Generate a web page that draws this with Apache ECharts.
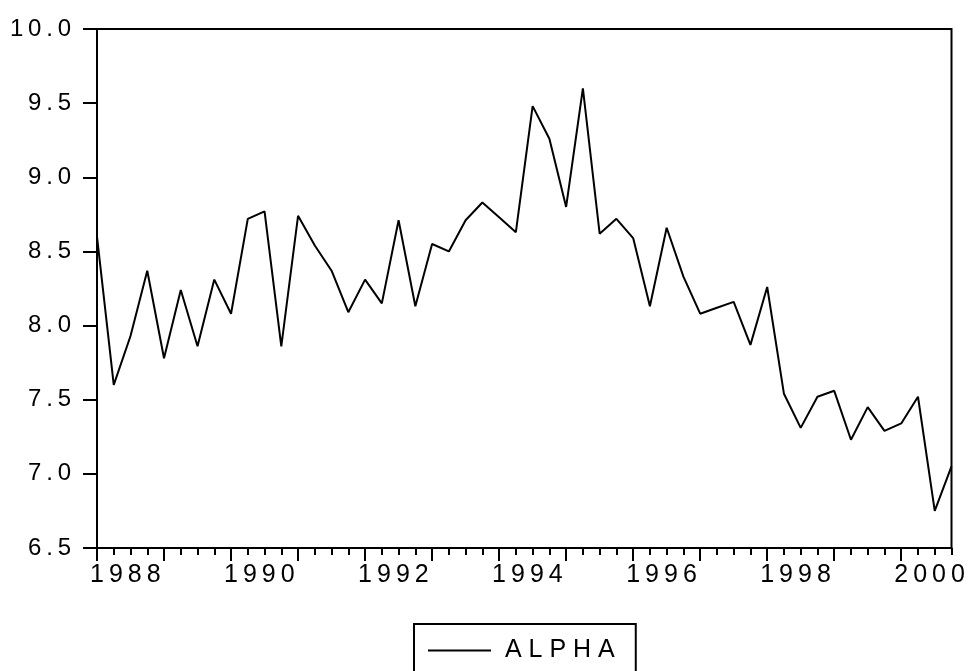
<!DOCTYPE html>
<html>
<head>
<meta charset="utf-8">
<script src="https://cdn.jsdelivr.net/npm/echarts@6/dist/echarts.min.js"></script>
<style>
  html, body { margin: 0; padding: 0; background: #fff; }
  #chart { width: 970px; height: 671px; }
</style>
</head>
<body>
<div id="chart"></div>
<script>
// quarterly, 1988Q1 .. 2000Q4
var years = [1988, 1989, 1990, 1991, 1992, 1993, 1994, 1995, 1996, 1997, 1998, 1999, 2000];
var quarters = ["Q1", "Q2", "Q3", "Q4"];
var categories = [];
years.forEach(function (y) {
  quarters.forEach(function (q) { categories.push(y + q); });
});

var alpha = [
  8.60, 7.60, 7.93, 8.37, 7.78, 8.24, 7.86, 8.31,
  8.08, 8.72, 8.77, 7.86, 8.74, 8.54, 8.37, 8.09,
  8.31, 8.15, 8.71, 8.13, 8.55, 8.50, 8.71, 8.83,
  8.73, 8.63, 9.48, 9.26, 8.80, 9.60, 8.62, 8.72,
  8.59, 8.13, 8.66, 8.33, 8.08, 8.12, 8.16, 7.87,
  8.26, 7.54, 7.31, 7.52, 7.56, 7.23, 7.45, 7.29,
  7.34, 7.52, 6.75, 7.05
];

var yMin = 6.5, yMax = 10.0, yStep = 0.5;
var seriesName = "ALPHA";
var font = "'Liberation Sans', Arial, sans-serif";

// EViews-style wide lettering
function spaced(s, sep) { return String(s).split("").join(sep || "\u2009"); }

var chart = echarts.init(document.getElementById("chart"));
chart.setOption({
  animation: false,
  backgroundColor: "#fff",
  grid: {
    left: 97, top: 29, right: 18.5, bottom: 123,
    show: true, borderColor: "#000", borderWidth: 2, backgroundColor: "transparent"
  },
  legend: {
    data: [seriesName],
    left: 414, top: 624,
    orient: "horizontal",
    borderColor: "#000", borderWidth: 2, borderRadius: 0,
    padding: [14, 21, 14, 14],
    icon: "rect", itemWidth: 63, itemHeight: 2,
    formatter: function (n) { return spaced(n, " "); },
    textStyle: { fontFamily: font, fontSize: 25, color: "#000", padding: [0, 0, 0, 9] }
  },
  xAxis: [
    {
      type: "category", data: categories, boundaryGap: false,
      axisLine: { show: true, lineStyle: { color: "#000", width: 2 } },
      axisTick: { show: true, interval: 0, length: 7, lineStyle: { color: "#000", width: 2 } },
      axisLabel: { show: false },
      splitLine: { show: false }
    },
    {
      type: "category", data: categories, boundaryGap: false, position: "bottom",
      axisLine: { show: false },
      axisTick: { show: true, interval: 3, length: 13, lineStyle: { color: "#000", width: 2 } },
      axisLabel: {
        show: true, interval: 7, margin: 15, align: "left",
        fontFamily: font, fontSize: 25, color: "#000",
        padding: [0, 0, 0, -7],
        formatter: function (v) { return spaced(v.slice(0, 4)); }
      },
      splitLine: { show: false }
    }
  ],
  yAxis: {
    type: "value", min: yMin, max: yMax, interval: yStep,
    axisLine: { show: true, lineStyle: { color: "#000", width: 2 } },
    axisTick: { show: true, length: 14, lineStyle: { color: "#000", width: 2 } },
    axisLabel: {
      margin: 26, fontFamily: font, fontSize: 24, color: "#000",
      padding: [0, 0, 6, 0],
      formatter: function (v) { return spaced(v.toFixed(1)); }
    },
    splitLine: { show: false }
  },
  series: [{
    name: seriesName,
    type: "line",
    data: alpha,
    xAxisIndex: 0,
    showSymbol: false,
    symbol: "none",
    lineStyle: { color: "#000", width: 2 },
    itemStyle: { color: "#000" }
  }]
});
</script>
</body>
</html>
